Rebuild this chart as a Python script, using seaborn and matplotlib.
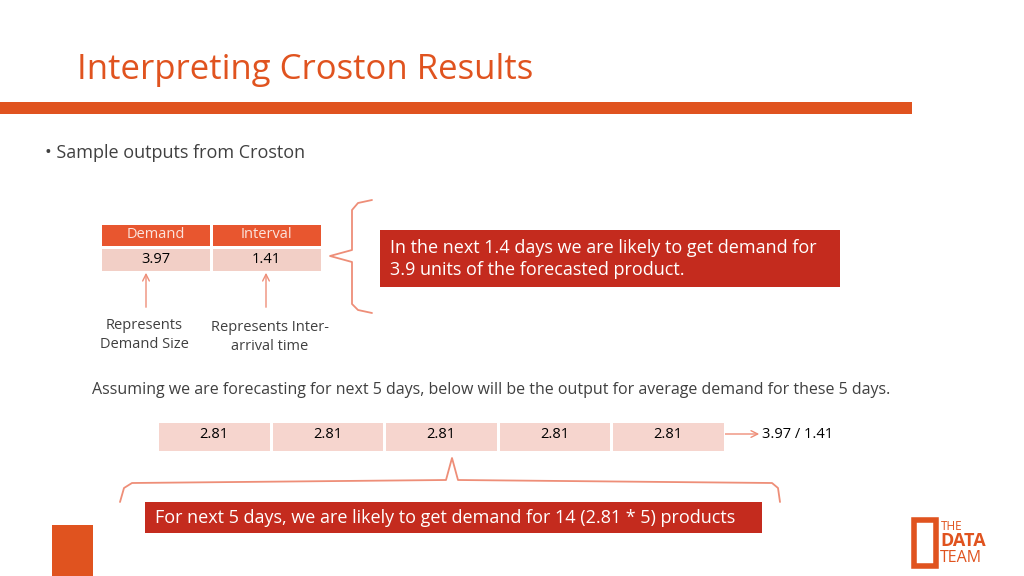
import numpy as np
import pandas as pd
import matplotlib.pyplot as plt
import seaborn as sns
from matplotlib.patches import Rectangle, FancyArrowPatch
from matplotlib.colors import ListedColormap

sns.set_theme(style='white', font='Open Sans')

title = 'Interpreting Croston Results'
table_cols = ['Demand', 'Interval']
table_vals = [3.97, 1.41]
forecast_days = ['Day 1', 'Day 2', 'Day 3', 'Day 4', 'Day 5']
forecast_vals = [2.81, 2.81, 2.81, 2.81, 2.81]

orange = '#E0531F'
red = '#C42B1E'
pink = '#F6D5CE'
salmon = '#EE8E78'
grey = '#404040'

fig = plt.figure(figsize=(10.24, 5.76), dpi=100)
ax = fig.add_axes([0, 0, 1, 1])
ax.set_xlim(0, 1024)
ax.set_ylim(576, 0)
ax.axis('off')

ax.text(77, 70, title, color=orange, fontsize=25, va='center')
ax.add_patch(Rectangle((0, 102), 912, 12, color=orange, lw=0))
ax.text(45, 153, '\u2022 Sample outputs from Croston', color=grey, fontsize=13, va='center')

# demand / interval table
def px_axes(x0, y0, x1, y1):
    return fig.add_axes([x0 / 1024, 1 - y1 / 576, (x1 - x0) / 1024, (y1 - y0) / 576])

hdr = px_axes(100, 223, 322, 247)
sns.heatmap(pd.DataFrame([[0, 0]], columns=table_cols), ax=hdr, cmap=ListedColormap(['#E8562F']),
            cbar=False, linewidths=2, linecolor='white', xticklabels=False, yticklabels=False)
for i, c in enumerate(table_cols):
    hdr.text(i + 0.5, 0.5, c, color='#FBE3DC', ha='center', va='center', fontsize=10.5)
row = px_axes(100, 247, 322, 272)
sns.heatmap(pd.DataFrame([table_vals], columns=table_cols), ax=row, cmap=ListedColormap(['#F2CFC6']),
            cbar=False, annot=True, fmt='.2f', annot_kws={'color': 'black', 'fontsize': 10.5},
            linewidths=2, linecolor='white', xticklabels=False, yticklabels=False)

for x in (146, 266):
    ax.add_patch(FancyArrowPatch((x, 310), (x, 270), arrowstyle='->', mutation_scale=12, color=salmon, lw=1))
ax.text(144, 335, 'Represents\nDemand Size', ha='center', va='center', color=grey, fontsize=10.5, linespacing=1.3)
ax.text(270, 337, 'Represents Inter-\narrival time', ha='center', va='center', color=grey, fontsize=10.5, linespacing=1.3)

# vertical brace
ax.plot([372, 358, 352, 352, 330, 352, 352, 358, 372], [200, 203, 210, 250, 256, 262, 304, 310, 313],
        color=salmon, lw=1.3)
ax.add_patch(Rectangle((380, 230), 460, 57, color=red, lw=0))
ax.text(390, 259, 'In the next 1.4 days we are likely to get demand for\n3.9 units of the forecasted product.',
        color='white', fontsize=13, va='center', linespacing=1.35)

ax.text(92, 390, 'Assuming we are forecasting for next 5 days, below will be the output for average demand for these 5 days.',
        color=grey, fontsize=11.5, va='center')

fc = px_axes(157, 421, 725, 452)
sns.heatmap(pd.DataFrame([forecast_vals], columns=forecast_days), ax=fc, cmap=ListedColormap([pink]),
            cbar=False, annot=True, fmt='.2f', annot_kws={'color': 'black', 'fontsize': 10.5},
            linewidths=2, linecolor='white', xticklabels=False, yticklabels=False)
for t in fc.texts:
    t.set_y(0.42)
ax.add_patch(FancyArrowPatch((686, 434), (762, 434), arrowstyle='->', mutation_scale=12, color=salmon, lw=1))
ax.text(762, 435, '3.97 / 1.41', fontsize=10.5, va='center', color='black')

# horizontal brace
ax.plot([120, 124, 132, 446, 452, 458, 772, 778, 780], [502, 488, 483, 480, 458, 480, 483, 488, 502],
        color=salmon, lw=1.3)
ax.add_patch(Rectangle((145, 502), 617, 31, color=red, lw=0))
ax.text(155, 518, 'For next 5 days, we are likely to get demand for 14 (2.81 * 5) products',
        color='white', fontsize=13, va='center')

ax.add_patch(Rectangle((52, 525), 41, 51, color=orange, lw=0))
# logo
ax.add_patch(Rectangle((914, 520), 22, 46, fill=False, ec=orange, lw=4))
ax.text(941, 526, 'THE', color=orange, fontsize=8.5, va='center')
ax.text(940, 541, 'DATA', color=orange, fontsize=13, fontweight='bold', va='center')
ax.text(940, 558, 'TEAM', color=orange, fontsize=11.5, va='center')

fig.savefig('out.png', dpi=100)
